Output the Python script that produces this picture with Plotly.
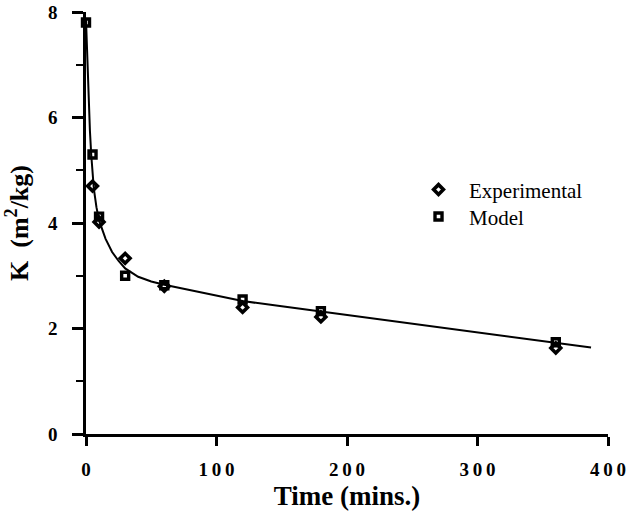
import plotly.graph_objects as go

# Sampling times (minutes)
time_exp = [5, 10, 30, 60, 120, 180, 360]
k_exp = [4.7, 4.02, 3.33, 2.8, 2.4, 2.22, 1.63]

time_model = [0, 5, 10, 30, 60, 120, 180, 360]
k_model = [7.8, 5.3, 4.12, 3.0, 2.82, 2.55, 2.33, 1.74]

# Smooth fitted curve through the data
time_fit = [0, 1, 2, 3, 4, 5, 6, 8, 10, 15, 20, 25, 30, 40, 50, 60, 90,
            120, 150, 180, 240, 300, 360, 387]
k_fit = [7.85, 7.0, 6.3, 5.75, 5.3, 4.95, 4.65, 4.3, 4.05, 3.7, 3.45, 3.28,
         3.14, 2.98, 2.89, 2.83, 2.68, 2.52, 2.42, 2.32, 2.12, 1.93, 1.73, 1.64]

x_ticks = [0, 100, 200, 300, 400]
x_tick_text = ["0", "1\u20090\u20090", "2\u20090\u20090", "3\u20090\u20090", "4\u20090\u20090"]
y_ticks = [0, 2, 4, 6, 8]

SERIF = "Liberation Serif, Times New Roman, serif"
LEGEND_FONT = dict(family=SERIF, size=21, color="black")

fig = go.Figure()

fig.add_trace(go.Scatter(
    x=time_fit, y=k_fit, mode="lines",
    line=dict(color="black", width=2),
    showlegend=False, cliponaxis=False,
))

fig.add_trace(go.Scatter(
    x=time_exp, y=k_exp, mode="markers",
    name="\u00a0\u00a0Experimental", legend="legend",
    marker=dict(symbol="diamond-open", size=7.5, color="black",
                line=dict(color="black", width=3.6)),
    cliponaxis=False,
))

fig.add_trace(go.Scatter(
    x=time_model, y=k_model, mode="markers",
    name="\u00a0\u00a0Model", legend="legend2",
    marker=dict(symbol="square-open", size=7, color="black",
                line=dict(color="black", width=3.4)),
    cliponaxis=False,
))

fig.update_layout(
    width=628, height=515,
    margin=dict(l=86, r=20, t=12, b=81),
    paper_bgcolor="white", plot_bgcolor="white",
    font=dict(family=SERIF, color="black"),
    legend=dict(
        x=0.637, y=0.5785, xanchor="left", yanchor="middle",
        font=LEGEND_FONT, bgcolor="rgba(0,0,0,0)",
    ),
    legend2=dict(
        x=0.637, y=0.5146, xanchor="left", yanchor="middle",
        font=LEGEND_FONT, bgcolor="rgba(0,0,0,0)",
    ),
    xaxis=dict(
        range=[0, 400], tickvals=x_ticks, ticktext=x_tick_text,
        automargin=False,
        showgrid=False, zeroline=False,
        showline=True, linecolor="black", linewidth=3,
        ticks="outside", ticklen=9, tickwidth=2.5, tickcolor="black",
        ticklabelstandoff=7,
        tickfont=dict(family=SERIF, size=19, weight="bold", color="black"),
        title=dict(text="Time (mins.)", standoff=8,
                   font=dict(family=SERIF, size=27, weight="bold", color="black")),
    ),
    yaxis=dict(
        range=[0, 8], tickvals=y_ticks,
        automargin=False,
        showgrid=False, zeroline=False,
        showline=True, linecolor="black", linewidth=2.5,
        ticks="outside", ticklen=11, tickwidth=2.5, tickcolor="black",
        ticklabelstandoff=11,
        minor=dict(dtick=1, ticks="outside", ticklen=7, tickwidth=2, tickcolor="black"),
        tickfont=dict(family=SERIF, size=19, weight="bold", color="black"),
        title=dict(text="K\u2002(m<sup>2</sup>/kg)", standoff=12,
                   font=dict(family=SERIF, size=26, weight="bold", color="black")),
    ),
)

fig.write_html("out.html")
